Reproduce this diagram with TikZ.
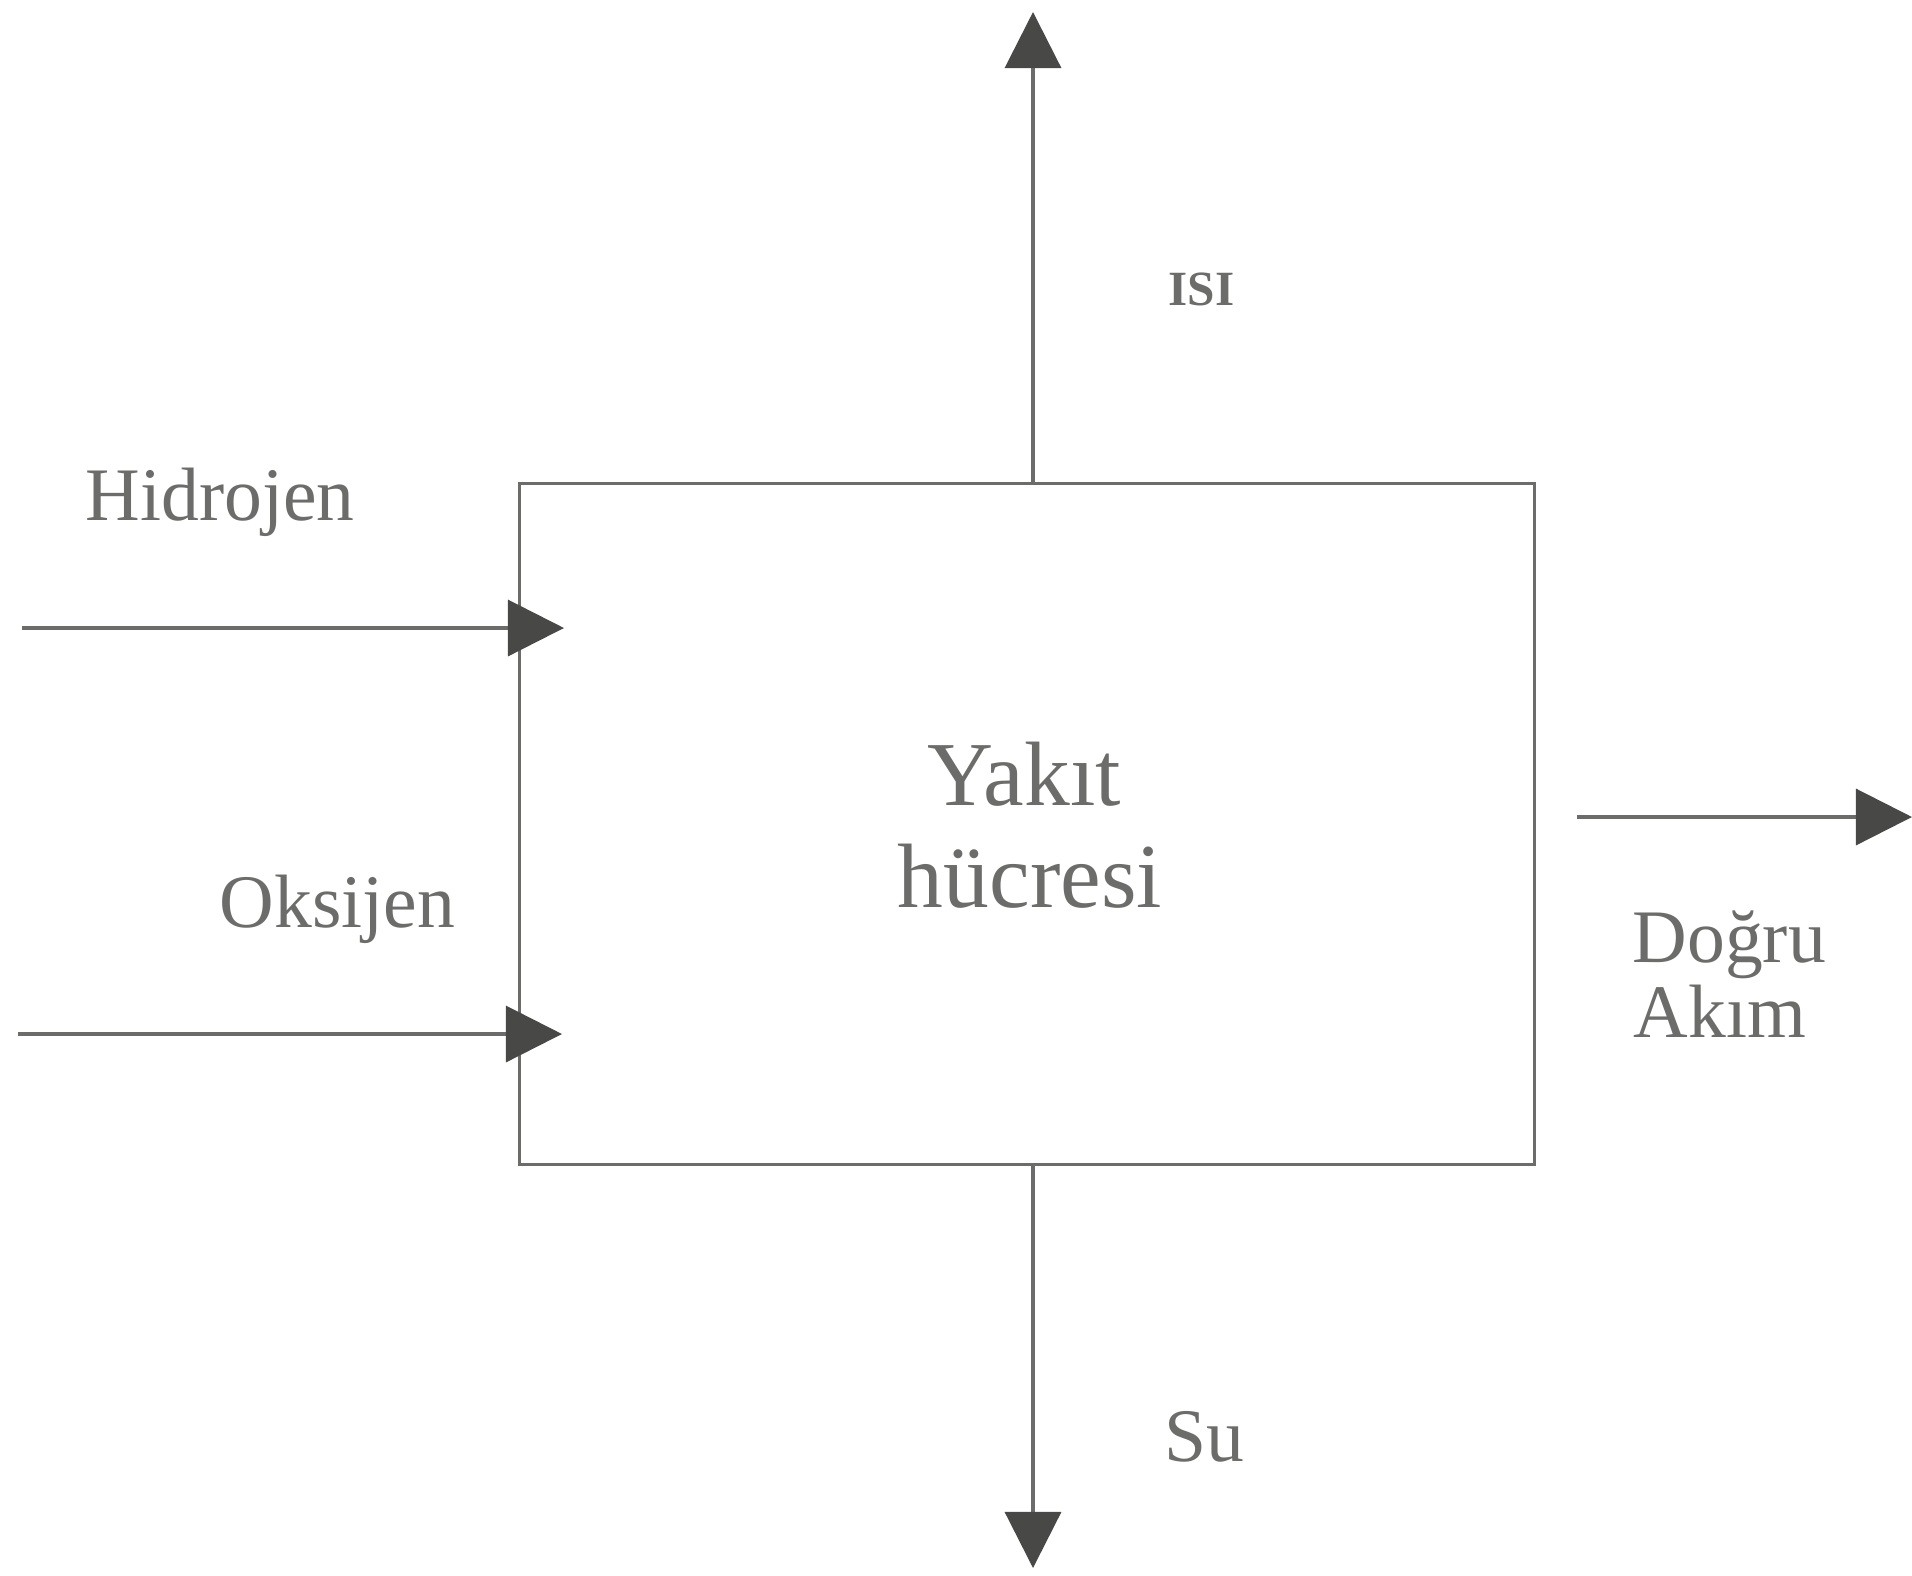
\documentclass[tikz,border=0pt]{standalone}
\usepackage{fontspec}
\setmainfont{Liberation Serif}
\usetikzlibrary{arrows.meta}
\definecolor{ink}{RGB}{108,108,106}
\definecolor{tip}{RGB}{72,72,70}
\tikzset{
  flow/.style={draw=ink, line width=0.9pt,
    -{Triangle[width=0.56cm,length=0.56cm,fill=tip,color=tip]}},
  label/.style={text=ink, inner sep=0pt, font=\fontsize{21.5}{24}\selectfont},
  title/.style={text=ink, inner sep=0pt, font=\fontsize{26}{30}\selectfont},
}
\begin{document}
\begin{tikzpicture}[x=0.01cm,y=-0.01cm]
\useasboundingbox (0,0) rectangle (1912,1575);

% the cell
\node[draw=ink, line width=0.9pt, minimum width=1015*0.01cm, minimum height=681*0.01cm,
      anchor=north west, inner sep=0pt] (cell) at (518,482) {};
\node[title, anchor=base] (t1) at (1024,805) {Yakıt};
\node[title, anchor=base] (t2) at (1030,907) {hücresi};

% ends of the flows
\coordinate (heatS) at (1033,482);
\coordinate (heatE) at (1033,12);
\coordinate (waterS) at (1033,1163);
\coordinate (waterE) at (1033,1568);
\coordinate (h2S) at (22,628);
\coordinate (h2E) at (564,628);
\coordinate (o2S) at (18,1034);
\coordinate (o2E) at (562,1034);
\coordinate (dcS) at (1577,817);
\coordinate (dcE) at (1912,817);

\draw[flow] (heatS) -- (heatE);
\draw[flow] (waterS) -- (waterE);
\draw[flow] (h2S) -- (h2E);
\draw[flow] (o2S) -- (o2E);
\draw[flow] (dcS) -- (dcE);

% labels
\node[text=ink, inner sep=0pt, font=\bfseries\fontsize{14}{16}\selectfont, anchor=base west] (isi) at (1168,305) {ISI};
\node[label, anchor=base west] (hid) at (85,520) {Hidrojen};
\node[label, anchor=base west] (oks) at (219,927) {Oksijen};
\node[label, anchor=base west] (su) at (1164,1461) {Su};
\node[label, anchor=base west] (dc1) at (1632,962) {Doğru};
\node[label, anchor=base west] (dc2) at (1633,1037) {Akım};
\end{tikzpicture}
\end{document}
